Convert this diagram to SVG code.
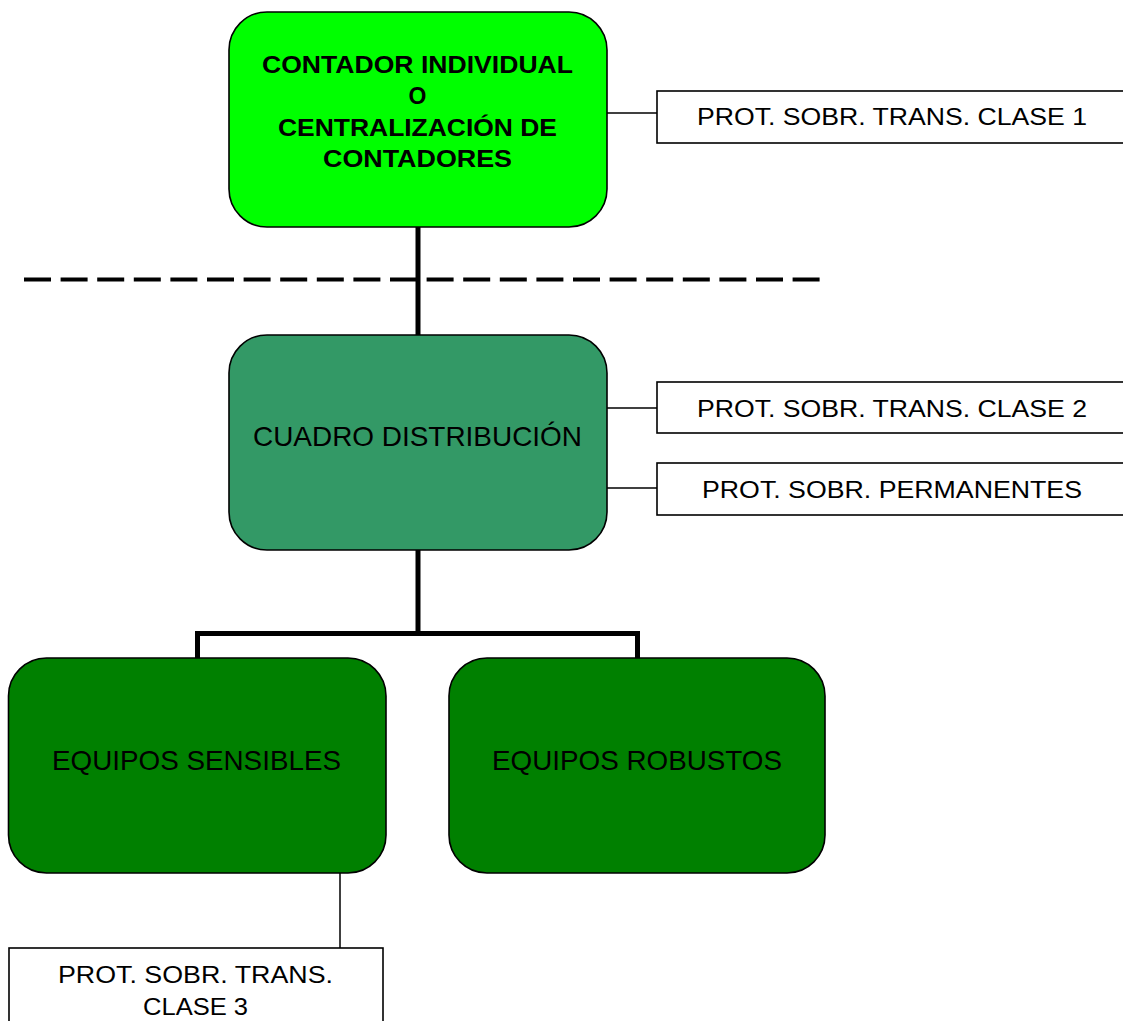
<svg xmlns="http://www.w3.org/2000/svg" width="1123" height="1021" viewBox="0 0 1123 1021">
  <style>
    .node { stroke: #000; stroke-width: 1.6; }
    .box { fill: #fff; stroke: #000; stroke-width: 1.6; }
    .thick { stroke: #000; stroke-width: 5; fill: none; }
    .thin { stroke: #000; stroke-width: 1.5; fill: none; }
    .dash { stroke: #000; stroke-width: 4; stroke-dasharray: 27 9.6; fill: none; }
    text { font-family: "Liberation Sans", Arial, sans-serif; fill: #000; text-anchor: middle; }
    .bold { font-weight: bold; font-size: 23px; }
    .reg { font-size: 24px; }
    .big { font-size: 27.5px; }
  </style>
  <rect width="1123" height="1021" fill="#fff"/>

  <!-- connectors -->
  <g id="connectors">
    <line class="dash" x1="24" y1="279.5" x2="822" y2="279.5"/>
    <line class="thick" x1="418" y1="226" x2="418" y2="336"/>
    <line class="thick" x1="418" y1="550" x2="418" y2="633.5"/>
    <polyline class="thick" points="197.5,658 197.5,633.5 637.5,633.5 637.5,658"/>
    <line class="thin" x1="607" y1="113" x2="657" y2="113"/>
    <line class="thin" x1="607" y1="408" x2="657" y2="408"/>
    <line class="thin" x1="607" y1="488" x2="657" y2="488"/>
    <line class="thin" x1="340" y1="873" x2="340" y2="948"/>
  </g>

  <g id="contador">
    <rect class="node" x="229" y="12" width="378" height="215" rx="38" ry="38" fill="#00ff00"/>
    <text class="bold" x="417.5" y="73" textLength="311" lengthAdjust="spacingAndGlyphs">CONTADOR INDIVIDUAL</text>
    <text class="bold" x="417.5" y="104">O</text>
    <text class="bold" x="417.5" y="136" textLength="279" lengthAdjust="spacingAndGlyphs">CENTRALIZACIÓN DE</text>
    <text class="bold" x="417.5" y="167" textLength="189" lengthAdjust="spacingAndGlyphs">CONTADORES</text>
  </g>

  <g id="cuadro">
    <rect class="node" x="229" y="335" width="378" height="215" rx="38" ry="38" fill="#339966"/>
    <text class="big" x="417.5" y="446" textLength="329" lengthAdjust="spacingAndGlyphs">CUADRO DISTRIBUCIÓN</text>
  </g>

  <g id="sensibles">
    <rect class="node" x="8.5" y="658" width="377.5" height="215" rx="38" ry="38" fill="#008000"/>
    <text class="big" x="196.5" y="770" textLength="289" lengthAdjust="spacingAndGlyphs">EQUIPOS SENSIBLES</text>
  </g>

  <g id="robustos">
    <rect class="node" x="449" y="658" width="376" height="215" rx="38" ry="38" fill="#008000"/>
    <text class="big" x="637" y="770" textLength="290" lengthAdjust="spacingAndGlyphs">EQUIPOS ROBUSTOS</text>
  </g>

  <g id="prot-clase1">
    <rect class="box" x="657" y="91" width="480" height="52"/>
    <text class="reg" x="892" y="125" textLength="390" lengthAdjust="spacingAndGlyphs">PROT. SOBR. TRANS. CLASE 1</text>
  </g>

  <g id="prot-clase2">
    <rect class="box" x="657" y="382" width="480" height="51"/>
    <text class="reg" x="892" y="417" textLength="390" lengthAdjust="spacingAndGlyphs">PROT. SOBR. TRANS. CLASE 2</text>
  </g>

  <g id="prot-permanentes">
    <rect class="box" x="657" y="463" width="480" height="52"/>
    <text class="reg" x="892" y="498" textLength="380" lengthAdjust="spacingAndGlyphs">PROT. SOBR. PERMANENTES</text>
  </g>

  <g id="prot-clase3">
    <rect class="box" x="9" y="948" width="374" height="90"/>
    <text class="reg" x="195.5" y="983" textLength="275" lengthAdjust="spacingAndGlyphs">PROT. SOBR. TRANS.</text>
    <text class="reg" x="195.5" y="1015" textLength="105" lengthAdjust="spacingAndGlyphs">CLASE 3</text>
  </g>
</svg>
